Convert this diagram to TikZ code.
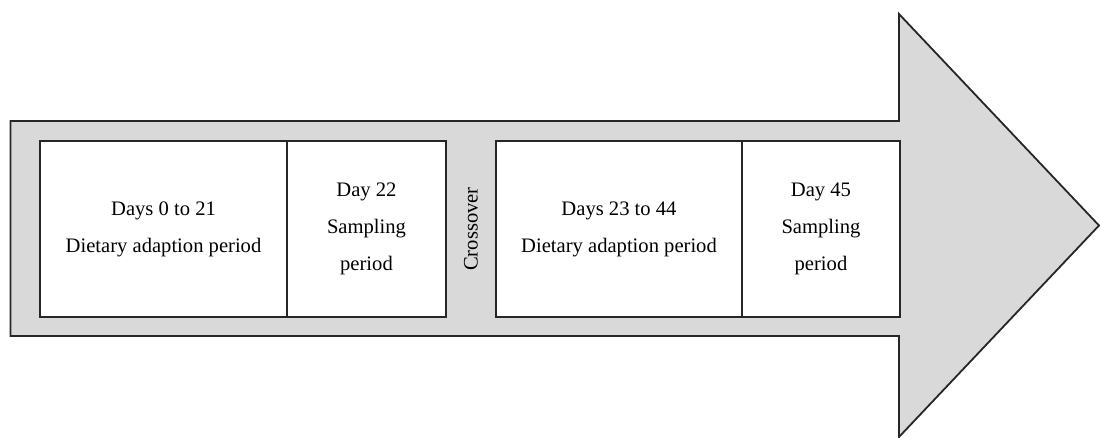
\documentclass[tikz,border=0pt]{standalone}
\usepackage{fontspec}
\setmainfont{Liberation Serif}
\usepackage{tikz}
\usetikzlibrary{positioning,calc}

\begin{document}
\begin{tikzpicture}[x=0.5pt, y=-0.5pt, node distance=0pt,
  font=\fontsize{10.3}{18.5}\selectfont,
  arrowbody/.style={draw=black!85, line width=0.9pt, fill=black!15, line join=miter},
  phase/.style={draw=black!85, line width=0.9pt, fill=white, outer sep=0pt, align=center, minimum height=88pt, inner sep=0pt}]
  \useasboundingbox (0,0) rectangle (1100,438);
  % big timeline arrow
  \draw[arrowbody] (10.5,121) -- (899,121) -- (899,14) -- (1099,225.5) -- (899,437) -- (899,336) -- (10.5,336) -- cycle;
  % first period
  \node[phase, minimum width=123.5pt] (adapt1) at (163.5,229) {Days 0 to 21\\Dietary adaption period};
  \node[phase, minimum width=79.5pt, right=of adapt1] (samp1) {Day 22\\Sampling\\period};
  % second period
  \node[phase, minimum width=123pt, right=25pt of samp1] (adapt2) {Days 23 to 44\\Dietary adaption period};
  \node[phase, minimum width=79pt, right=of adapt2] (samp2) {Day 45\\Sampling\\period};
  % crossover label in the gap
  \node[rotate=90] (cross) at ($(samp1.east)!0.5!(adapt2.west)$) {Crossover};
\end{tikzpicture}
\end{document}
